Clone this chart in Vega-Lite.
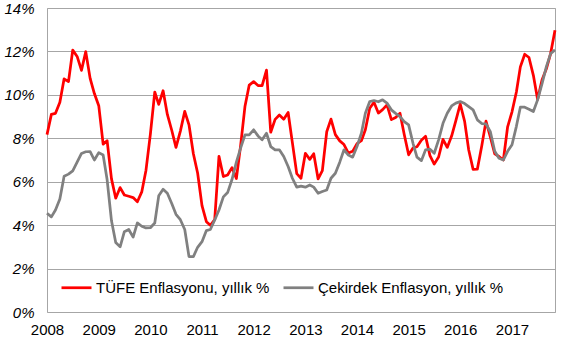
{
  "$schema": "https://vega.github.io/schema/vega-lite/v6.json",
  "autosize": "none",
  "width": 508,
  "height": 304,
  "padding": {"left": 47, "top": 8, "right": 18, "bottom": 30},
  "background": "white",
  "config": {
    "view": {"stroke": "#a6a6a6", "strokeWidth": 1},
    "font": "Liberation Sans"
  },
  "data": {"values": [
    {"date":"2008-01-01","s":"TÜFE Enflasyonu, yıllık %","v":8.17},
    {"date":"2008-02-01","s":"TÜFE Enflasyonu, yıllık %","v":9.10},
    {"date":"2008-03-01","s":"TÜFE Enflasyonu, yıllık %","v":9.15},
    {"date":"2008-04-01","s":"TÜFE Enflasyonu, yıllık %","v":9.66},
    {"date":"2008-05-01","s":"TÜFE Enflasyonu, yıllık %","v":10.74},
    {"date":"2008-06-01","s":"TÜFE Enflasyonu, yıllık %","v":10.61},
    {"date":"2008-07-01","s":"TÜFE Enflasyonu, yıllık %","v":12.06},
    {"date":"2008-08-01","s":"TÜFE Enflasyonu, yıllık %","v":11.77},
    {"date":"2008-09-01","s":"TÜFE Enflasyonu, yıllık %","v":11.13},
    {"date":"2008-10-01","s":"TÜFE Enflasyonu, yıllık %","v":11.99},
    {"date":"2008-11-01","s":"TÜFE Enflasyonu, yıllık %","v":10.76},
    {"date":"2008-12-01","s":"TÜFE Enflasyonu, yıllık %","v":10.06},
    {"date":"2009-01-01","s":"TÜFE Enflasyonu, yıllık %","v":9.50},
    {"date":"2009-02-01","s":"TÜFE Enflasyonu, yıllık %","v":7.73},
    {"date":"2009-03-01","s":"TÜFE Enflasyonu, yıllık %","v":7.89},
    {"date":"2009-04-01","s":"TÜFE Enflasyonu, yıllık %","v":6.13},
    {"date":"2009-05-01","s":"TÜFE Enflasyonu, yıllık %","v":5.24},
    {"date":"2009-06-01","s":"TÜFE Enflasyonu, yıllık %","v":5.73},
    {"date":"2009-07-01","s":"TÜFE Enflasyonu, yıllık %","v":5.39},
    {"date":"2009-08-01","s":"TÜFE Enflasyonu, yıllık %","v":5.33},
    {"date":"2009-09-01","s":"TÜFE Enflasyonu, yıllık %","v":5.27},
    {"date":"2009-10-01","s":"TÜFE Enflasyonu, yıllık %","v":5.08},
    {"date":"2009-11-01","s":"TÜFE Enflasyonu, yıllık %","v":5.53},
    {"date":"2009-12-01","s":"TÜFE Enflasyonu, yıllık %","v":6.53},
    {"date":"2010-01-01","s":"TÜFE Enflasyonu, yıllık %","v":8.19},
    {"date":"2010-02-01","s":"TÜFE Enflasyonu, yıllık %","v":10.13},
    {"date":"2010-03-01","s":"TÜFE Enflasyonu, yıllık %","v":9.56},
    {"date":"2010-04-01","s":"TÜFE Enflasyonu, yıllık %","v":10.19},
    {"date":"2010-05-01","s":"TÜFE Enflasyonu, yıllık %","v":9.10},
    {"date":"2010-06-01","s":"TÜFE Enflasyonu, yıllık %","v":8.37},
    {"date":"2010-07-01","s":"TÜFE Enflasyonu, yıllık %","v":7.58},
    {"date":"2010-08-01","s":"TÜFE Enflasyonu, yıllık %","v":8.33},
    {"date":"2010-09-01","s":"TÜFE Enflasyonu, yıllık %","v":9.24},
    {"date":"2010-10-01","s":"TÜFE Enflasyonu, yıllık %","v":8.62},
    {"date":"2010-11-01","s":"TÜFE Enflasyonu, yıllık %","v":7.29},
    {"date":"2010-12-01","s":"TÜFE Enflasyonu, yıllık %","v":6.40},
    {"date":"2011-01-01","s":"TÜFE Enflasyonu, yıllık %","v":4.90},
    {"date":"2011-02-01","s":"TÜFE Enflasyonu, yıllık %","v":4.16},
    {"date":"2011-03-01","s":"TÜFE Enflasyonu, yıllık %","v":3.99},
    {"date":"2011-04-01","s":"TÜFE Enflasyonu, yıllık %","v":4.26},
    {"date":"2011-05-01","s":"TÜFE Enflasyonu, yıllık %","v":7.17},
    {"date":"2011-06-01","s":"TÜFE Enflasyonu, yıllık %","v":6.24},
    {"date":"2011-07-01","s":"TÜFE Enflasyonu, yıllık %","v":6.31},
    {"date":"2011-08-01","s":"TÜFE Enflasyonu, yıllık %","v":6.65},
    {"date":"2011-09-01","s":"TÜFE Enflasyonu, yıllık %","v":6.15},
    {"date":"2011-10-01","s":"TÜFE Enflasyonu, yıllık %","v":7.66},
    {"date":"2011-11-01","s":"TÜFE Enflasyonu, yıllık %","v":9.48},
    {"date":"2011-12-01","s":"TÜFE Enflasyonu, yıllık %","v":10.45},
    {"date":"2012-01-01","s":"TÜFE Enflasyonu, yıllık %","v":10.61},
    {"date":"2012-02-01","s":"TÜFE Enflasyonu, yıllık %","v":10.43},
    {"date":"2012-03-01","s":"TÜFE Enflasyonu, yıllık %","v":10.43},
    {"date":"2012-04-01","s":"TÜFE Enflasyonu, yıllık %","v":11.14},
    {"date":"2012-05-01","s":"TÜFE Enflasyonu, yıllık %","v":8.28},
    {"date":"2012-06-01","s":"TÜFE Enflasyonu, yıllık %","v":8.87},
    {"date":"2012-07-01","s":"TÜFE Enflasyonu, yıllık %","v":9.07},
    {"date":"2012-08-01","s":"TÜFE Enflasyonu, yıllık %","v":8.88},
    {"date":"2012-09-01","s":"TÜFE Enflasyonu, yıllık %","v":9.19},
    {"date":"2012-10-01","s":"TÜFE Enflasyonu, yıllık %","v":7.80},
    {"date":"2012-11-01","s":"TÜFE Enflasyonu, yıllık %","v":6.37},
    {"date":"2012-12-01","s":"TÜFE Enflasyonu, yıllık %","v":6.16},
    {"date":"2013-01-01","s":"TÜFE Enflasyonu, yıllık %","v":7.31},
    {"date":"2013-02-01","s":"TÜFE Enflasyonu, yıllık %","v":7.03},
    {"date":"2013-03-01","s":"TÜFE Enflasyonu, yıllık %","v":7.29},
    {"date":"2013-04-01","s":"TÜFE Enflasyonu, yıllık %","v":6.13},
    {"date":"2013-05-01","s":"TÜFE Enflasyonu, yıllık %","v":6.51},
    {"date":"2013-06-01","s":"TÜFE Enflasyonu, yıllık %","v":8.30},
    {"date":"2013-07-01","s":"TÜFE Enflasyonu, yıllık %","v":8.88},
    {"date":"2013-08-01","s":"TÜFE Enflasyonu, yıllık %","v":8.17},
    {"date":"2013-09-01","s":"TÜFE Enflasyonu, yıllık %","v":7.88},
    {"date":"2013-10-01","s":"TÜFE Enflasyonu, yıllık %","v":7.71},
    {"date":"2013-11-01","s":"TÜFE Enflasyonu, yıllık %","v":7.32},
    {"date":"2013-12-01","s":"TÜFE Enflasyonu, yıllık %","v":7.40},
    {"date":"2014-01-01","s":"TÜFE Enflasyonu, yıllık %","v":7.75},
    {"date":"2014-02-01","s":"TÜFE Enflasyonu, yıllık %","v":7.89},
    {"date":"2014-03-01","s":"TÜFE Enflasyonu, yıllık %","v":8.39},
    {"date":"2014-04-01","s":"TÜFE Enflasyonu, yıllık %","v":9.38},
    {"date":"2014-05-01","s":"TÜFE Enflasyonu, yıllık %","v":9.66},
    {"date":"2014-06-01","s":"TÜFE Enflasyonu, yıllık %","v":9.16},
    {"date":"2014-07-01","s":"TÜFE Enflasyonu, yıllık %","v":9.32},
    {"date":"2014-08-01","s":"TÜFE Enflasyonu, yıllık %","v":9.54},
    {"date":"2014-09-01","s":"TÜFE Enflasyonu, yıllık %","v":8.86},
    {"date":"2014-10-01","s":"TÜFE Enflasyonu, yıllık %","v":8.96},
    {"date":"2014-11-01","s":"TÜFE Enflasyonu, yıllık %","v":9.15},
    {"date":"2014-12-01","s":"TÜFE Enflasyonu, yıllık %","v":8.17},
    {"date":"2015-01-01","s":"TÜFE Enflasyonu, yıllık %","v":7.24},
    {"date":"2015-02-01","s":"TÜFE Enflasyonu, yıllık %","v":7.55},
    {"date":"2015-03-01","s":"TÜFE Enflasyonu, yıllık %","v":7.61},
    {"date":"2015-04-01","s":"TÜFE Enflasyonu, yıllık %","v":7.91},
    {"date":"2015-05-01","s":"TÜFE Enflasyonu, yıllık %","v":8.09},
    {"date":"2015-06-01","s":"TÜFE Enflasyonu, yıllık %","v":7.20},
    {"date":"2015-07-01","s":"TÜFE Enflasyonu, yıllık %","v":6.81},
    {"date":"2015-08-01","s":"TÜFE Enflasyonu, yıllık %","v":7.14},
    {"date":"2015-09-01","s":"TÜFE Enflasyonu, yıllık %","v":7.95},
    {"date":"2015-10-01","s":"TÜFE Enflasyonu, yıllık %","v":7.58},
    {"date":"2015-11-01","s":"TÜFE Enflasyonu, yıllık %","v":8.10},
    {"date":"2015-12-01","s":"TÜFE Enflasyonu, yıllık %","v":8.81},
    {"date":"2016-01-01","s":"TÜFE Enflasyonu, yıllık %","v":9.58},
    {"date":"2016-02-01","s":"TÜFE Enflasyonu, yıllık %","v":8.78},
    {"date":"2016-03-01","s":"TÜFE Enflasyonu, yıllık %","v":7.46},
    {"date":"2016-04-01","s":"TÜFE Enflasyonu, yıllık %","v":6.57},
    {"date":"2016-05-01","s":"TÜFE Enflasyonu, yıllık %","v":6.58},
    {"date":"2016-06-01","s":"TÜFE Enflasyonu, yıllık %","v":7.64},
    {"date":"2016-07-01","s":"TÜFE Enflasyonu, yıllık %","v":8.79},
    {"date":"2016-08-01","s":"TÜFE Enflasyonu, yıllık %","v":8.05},
    {"date":"2016-09-01","s":"TÜFE Enflasyonu, yıllık %","v":7.28},
    {"date":"2016-10-01","s":"TÜFE Enflasyonu, yıllık %","v":7.16},
    {"date":"2016-11-01","s":"TÜFE Enflasyonu, yıllık %","v":7.00},
    {"date":"2016-12-01","s":"TÜFE Enflasyonu, yıllık %","v":8.53},
    {"date":"2017-01-01","s":"TÜFE Enflasyonu, yıllık %","v":9.22},
    {"date":"2017-02-01","s":"TÜFE Enflasyonu, yıllık %","v":10.13},
    {"date":"2017-03-01","s":"TÜFE Enflasyonu, yıllık %","v":11.29},
    {"date":"2017-04-01","s":"TÜFE Enflasyonu, yıllık %","v":11.87},
    {"date":"2017-05-01","s":"TÜFE Enflasyonu, yıllık %","v":11.72},
    {"date":"2017-06-01","s":"TÜFE Enflasyonu, yıllık %","v":10.90},
    {"date":"2017-07-01","s":"TÜFE Enflasyonu, yıllık %","v":9.79},
    {"date":"2017-08-01","s":"TÜFE Enflasyonu, yıllık %","v":10.68},
    {"date":"2017-09-01","s":"TÜFE Enflasyonu, yıllık %","v":11.20},
    {"date":"2017-10-01","s":"TÜFE Enflasyonu, yıllık %","v":11.90},
    {"date":"2017-11-01","s":"TÜFE Enflasyonu, yıllık %","v":12.98},
    {"date":"2008-01-01","s":"Çekirdek Enflasyon, yıllık %","v":4.55},
    {"date":"2008-02-01","s":"Çekirdek Enflasyon, yıllık %","v":4.38},
    {"date":"2008-03-01","s":"Çekirdek Enflasyon, yıllık %","v":4.7},
    {"date":"2008-04-01","s":"Çekirdek Enflasyon, yıllık %","v":5.2},
    {"date":"2008-05-01","s":"Çekirdek Enflasyon, yıllık %","v":6.25},
    {"date":"2008-06-01","s":"Çekirdek Enflasyon, yıllık %","v":6.35},
    {"date":"2008-07-01","s":"Çekirdek Enflasyon, yıllık %","v":6.5},
    {"date":"2008-08-01","s":"Çekirdek Enflasyon, yıllık %","v":6.9},
    {"date":"2008-09-01","s":"Çekirdek Enflasyon, yıllık %","v":7.3},
    {"date":"2008-10-01","s":"Çekirdek Enflasyon, yıllık %","v":7.38},
    {"date":"2008-11-01","s":"Çekirdek Enflasyon, yıllık %","v":7.39},
    {"date":"2008-12-01","s":"Çekirdek Enflasyon, yıllık %","v":7.0},
    {"date":"2009-01-01","s":"Çekirdek Enflasyon, yıllık %","v":7.34},
    {"date":"2009-02-01","s":"Çekirdek Enflasyon, yıllık %","v":7.23},
    {"date":"2009-03-01","s":"Çekirdek Enflasyon, yıllık %","v":6.1},
    {"date":"2009-04-01","s":"Çekirdek Enflasyon, yıllık %","v":4.2},
    {"date":"2009-05-01","s":"Çekirdek Enflasyon, yıllık %","v":3.2},
    {"date":"2009-06-01","s":"Çekirdek Enflasyon, yıllık %","v":3.0},
    {"date":"2009-07-01","s":"Çekirdek Enflasyon, yıllık %","v":3.7},
    {"date":"2009-08-01","s":"Çekirdek Enflasyon, yıllık %","v":3.8},
    {"date":"2009-09-01","s":"Çekirdek Enflasyon, yıllık %","v":3.45},
    {"date":"2009-10-01","s":"Çekirdek Enflasyon, yıllık %","v":4.1},
    {"date":"2009-11-01","s":"Çekirdek Enflasyon, yıllık %","v":3.95},
    {"date":"2009-12-01","s":"Çekirdek Enflasyon, yıllık %","v":3.87},
    {"date":"2010-01-01","s":"Çekirdek Enflasyon, yıllık %","v":3.88},
    {"date":"2010-02-01","s":"Çekirdek Enflasyon, yıllık %","v":4.1},
    {"date":"2010-03-01","s":"Çekirdek Enflasyon, yıllık %","v":5.35},
    {"date":"2010-04-01","s":"Çekirdek Enflasyon, yıllık %","v":5.65},
    {"date":"2010-05-01","s":"Çekirdek Enflasyon, yıllık %","v":5.47},
    {"date":"2010-06-01","s":"Çekirdek Enflasyon, yıllık %","v":5.0},
    {"date":"2010-07-01","s":"Çekirdek Enflasyon, yıllık %","v":4.5},
    {"date":"2010-08-01","s":"Çekirdek Enflasyon, yıllık %","v":4.25},
    {"date":"2010-09-01","s":"Çekirdek Enflasyon, yıllık %","v":3.8},
    {"date":"2010-10-01","s":"Çekirdek Enflasyon, yıllık %","v":2.55},
    {"date":"2010-11-01","s":"Çekirdek Enflasyon, yıllık %","v":2.55},
    {"date":"2010-12-01","s":"Çekirdek Enflasyon, yıllık %","v":2.98},
    {"date":"2011-01-01","s":"Çekirdek Enflasyon, yıllık %","v":3.24},
    {"date":"2011-02-01","s":"Çekirdek Enflasyon, yıllık %","v":3.75},
    {"date":"2011-03-01","s":"Çekirdek Enflasyon, yıllık %","v":3.8},
    {"date":"2011-04-01","s":"Çekirdek Enflasyon, yıllık %","v":4.24},
    {"date":"2011-05-01","s":"Çekirdek Enflasyon, yıllık %","v":4.7},
    {"date":"2011-06-01","s":"Çekirdek Enflasyon, yıllık %","v":5.3},
    {"date":"2011-07-01","s":"Çekirdek Enflasyon, yıllık %","v":5.5},
    {"date":"2011-08-01","s":"Çekirdek Enflasyon, yıllık %","v":6.1},
    {"date":"2011-09-01","s":"Çekirdek Enflasyon, yıllık %","v":6.9},
    {"date":"2011-10-01","s":"Çekirdek Enflasyon, yıllık %","v":7.55},
    {"date":"2011-11-01","s":"Çekirdek Enflasyon, yıllık %","v":8.16},
    {"date":"2011-12-01","s":"Çekirdek Enflasyon, yıllık %","v":8.16},
    {"date":"2012-01-01","s":"Çekirdek Enflasyon, yıllık %","v":8.39},
    {"date":"2012-02-01","s":"Çekirdek Enflasyon, yıllık %","v":8.11},
    {"date":"2012-03-01","s":"Çekirdek Enflasyon, yıllık %","v":7.93},
    {"date":"2012-04-01","s":"Çekirdek Enflasyon, yıllık %","v":8.23},
    {"date":"2012-05-01","s":"Çekirdek Enflasyon, yıllık %","v":7.62},
    {"date":"2012-06-01","s":"Çekirdek Enflasyon, yıllık %","v":7.47},
    {"date":"2012-07-01","s":"Çekirdek Enflasyon, yıllık %","v":7.47},
    {"date":"2012-08-01","s":"Çekirdek Enflasyon, yıllık %","v":7.16},
    {"date":"2012-09-01","s":"Çekirdek Enflasyon, yıllık %","v":6.7},
    {"date":"2012-10-01","s":"Çekirdek Enflasyon, yıllık %","v":6.16},
    {"date":"2012-11-01","s":"Çekirdek Enflasyon, yıllık %","v":5.75},
    {"date":"2012-12-01","s":"Çekirdek Enflasyon, yıllık %","v":5.8},
    {"date":"2013-01-01","s":"Çekirdek Enflasyon, yıllık %","v":5.75},
    {"date":"2013-02-01","s":"Çekirdek Enflasyon, yıllık %","v":5.85},
    {"date":"2013-03-01","s":"Çekirdek Enflasyon, yıllık %","v":5.75},
    {"date":"2013-04-01","s":"Çekirdek Enflasyon, yıllık %","v":5.47},
    {"date":"2013-05-01","s":"Çekirdek Enflasyon, yıllık %","v":5.55},
    {"date":"2013-06-01","s":"Çekirdek Enflasyon, yıllık %","v":5.62},
    {"date":"2013-07-01","s":"Çekirdek Enflasyon, yıllık %","v":6.16},
    {"date":"2013-08-01","s":"Çekirdek Enflasyon, yıllık %","v":6.39},
    {"date":"2013-09-01","s":"Çekirdek Enflasyon, yıllık %","v":6.9},
    {"date":"2013-10-01","s":"Çekirdek Enflasyon, yıllık %","v":7.47},
    {"date":"2013-11-01","s":"Çekirdek Enflasyon, yıllık %","v":7.23},
    {"date":"2013-12-01","s":"Çekirdek Enflasyon, yıllık %","v":7.13},
    {"date":"2014-01-01","s":"Çekirdek Enflasyon, yıllık %","v":7.62},
    {"date":"2014-02-01","s":"Çekirdek Enflasyon, yıllık %","v":8.23},
    {"date":"2014-03-01","s":"Çekirdek Enflasyon, yıllık %","v":9.15},
    {"date":"2014-04-01","s":"Çekirdek Enflasyon, yıllık %","v":9.69},
    {"date":"2014-05-01","s":"Çekirdek Enflasyon, yıllık %","v":9.74},
    {"date":"2014-06-01","s":"Çekirdek Enflasyon, yıllık %","v":9.68},
    {"date":"2014-07-01","s":"Çekirdek Enflasyon, yıllık %","v":9.77},
    {"date":"2014-08-01","s":"Çekirdek Enflasyon, yıllık %","v":9.62},
    {"date":"2014-09-01","s":"Çekirdek Enflasyon, yıllık %","v":9.31},
    {"date":"2014-10-01","s":"Çekirdek Enflasyon, yıllık %","v":9.15},
    {"date":"2014-11-01","s":"Çekirdek Enflasyon, yıllık %","v":9.0},
    {"date":"2014-12-01","s":"Çekirdek Enflasyon, yıllık %","v":8.77},
    {"date":"2015-01-01","s":"Çekirdek Enflasyon, yıllık %","v":8.62},
    {"date":"2015-02-01","s":"Çekirdek Enflasyon, yıllık %","v":7.77},
    {"date":"2015-03-01","s":"Çekirdek Enflasyon, yıllık %","v":7.13},
    {"date":"2015-04-01","s":"Çekirdek Enflasyon, yıllık %","v":6.97},
    {"date":"2015-05-01","s":"Çekirdek Enflasyon, yıllık %","v":7.47},
    {"date":"2015-06-01","s":"Çekirdek Enflasyon, yıllık %","v":7.5},
    {"date":"2015-07-01","s":"Çekirdek Enflasyon, yıllık %","v":7.31},
    {"date":"2015-08-01","s":"Çekirdek Enflasyon, yıllık %","v":7.93},
    {"date":"2015-09-01","s":"Çekirdek Enflasyon, yıllık %","v":8.69},
    {"date":"2015-10-01","s":"Çekirdek Enflasyon, yıllık %","v":9.15},
    {"date":"2015-11-01","s":"Çekirdek Enflasyon, yıllık %","v":9.49},
    {"date":"2015-12-01","s":"Çekirdek Enflasyon, yıllık %","v":9.62},
    {"date":"2016-01-01","s":"Çekirdek Enflasyon, yıllık %","v":9.69},
    {"date":"2016-02-01","s":"Çekirdek Enflasyon, yıllık %","v":9.6},
    {"date":"2016-03-01","s":"Çekirdek Enflasyon, yıllık %","v":9.46},
    {"date":"2016-04-01","s":"Çekirdek Enflasyon, yıllık %","v":9.31},
    {"date":"2016-05-01","s":"Çekirdek Enflasyon, yıllık %","v":8.85},
    {"date":"2016-06-01","s":"Çekirdek Enflasyon, yıllık %","v":8.68},
    {"date":"2016-07-01","s":"Çekirdek Enflasyon, yıllık %","v":8.66},
    {"date":"2016-08-01","s":"Çekirdek Enflasyon, yıllık %","v":8.3},
    {"date":"2016-09-01","s":"Çekirdek Enflasyon, yıllık %","v":7.4},
    {"date":"2016-10-01","s":"Çekirdek Enflasyon, yıllık %","v":7.08},
    {"date":"2016-11-01","s":"Çekirdek Enflasyon, yıllık %","v":7.0},
    {"date":"2016-12-01","s":"Çekirdek Enflasyon, yıllık %","v":7.4},
    {"date":"2017-01-01","s":"Çekirdek Enflasyon, yıllık %","v":7.7},
    {"date":"2017-02-01","s":"Çekirdek Enflasyon, yıllık %","v":8.55},
    {"date":"2017-03-01","s":"Çekirdek Enflasyon, yıllık %","v":9.43},
    {"date":"2017-04-01","s":"Çekirdek Enflasyon, yıllık %","v":9.43},
    {"date":"2017-05-01","s":"Çekirdek Enflasyon, yıllık %","v":9.34},
    {"date":"2017-06-01","s":"Çekirdek Enflasyon, yıllık %","v":9.23},
    {"date":"2017-07-01","s":"Çekirdek Enflasyon, yıllık %","v":9.77},
    {"date":"2017-08-01","s":"Çekirdek Enflasyon, yıllık %","v":10.5},
    {"date":"2017-09-01","s":"Çekirdek Enflasyon, yıllık %","v":11.3},
    {"date":"2017-10-01","s":"Çekirdek Enflasyon, yıllık %","v":11.9},
    {"date":"2017-11-01","s":"Çekirdek Enflasyon, yıllık %","v":12.07}
  ]},
  "mark": {"type": "line", "strokeWidth": 2.75, "strokeJoin": "round"},
  "encoding": {
    "x": {
      "field": "date", "type": "temporal",
      "scale": {"type": "utc", "nice": false,
        "domain": [{"year": 2008, "month": 1, "date": 1, "utc": true}, {"year": 2017, "month": 11, "date": 1, "utc": true}]},
      "axis": {"title": null, "format": "%Y", "tickCount": {"interval": "year", "step": 1},
        "grid": false, "ticks": false, "domain": false,
        "labelFont": "Liberation Sans", "labelFontSize": 15, "labelColor": "#000000",
        "labelPadding": 10, "labelFlush": false, "labelOverlap": false}
    },
    "y": {
      "field": "v", "type": "quantitative",
      "scale": {"domain": [0, 14], "nice": false, "zero": true},
      "axis": {"title": null, "values": [0, 2, 4, 6, 8, 10, 12, 14],
        "labelExpr": "datum.value + '%'",
        "grid": true, "gridColor": "#a6a6a6", "gridWidth": 1,
        "ticks": false, "domain": false,
        "labelFont": "Liberation Sans", "labelFontSize": 15, "labelFontStyle": "italic", "labelColor": "#000000",
        "labelPadding": 13}
    },
    "color": {
      "field": "s", "type": "nominal",
      "sort": ["TÜFE Enflasyonu, yıllık %", "Çekirdek Enflasyon, yıllık %"],
      "scale": {"domain": ["TÜFE Enflasyonu, yıllık %", "Çekirdek Enflasyon, yıllık %"], "range": ["#ff0000", "#808080"]},
      "legend": {
        "title": null, "orient": "none", "direction": "horizontal",
        "legendX": 13, "legendY": 263,
        "symbolType": "stroke", "symbolSize": 900, "symbolStrokeWidth": 2.75,
        "labelFont": "Liberation Sans", "labelFontSize": 15, "labelColor": "#000000",
        "labelOffset": 3, "columnPadding": 8, "padding": 0, "labelLimit": 300
      }
    }
  }
}
